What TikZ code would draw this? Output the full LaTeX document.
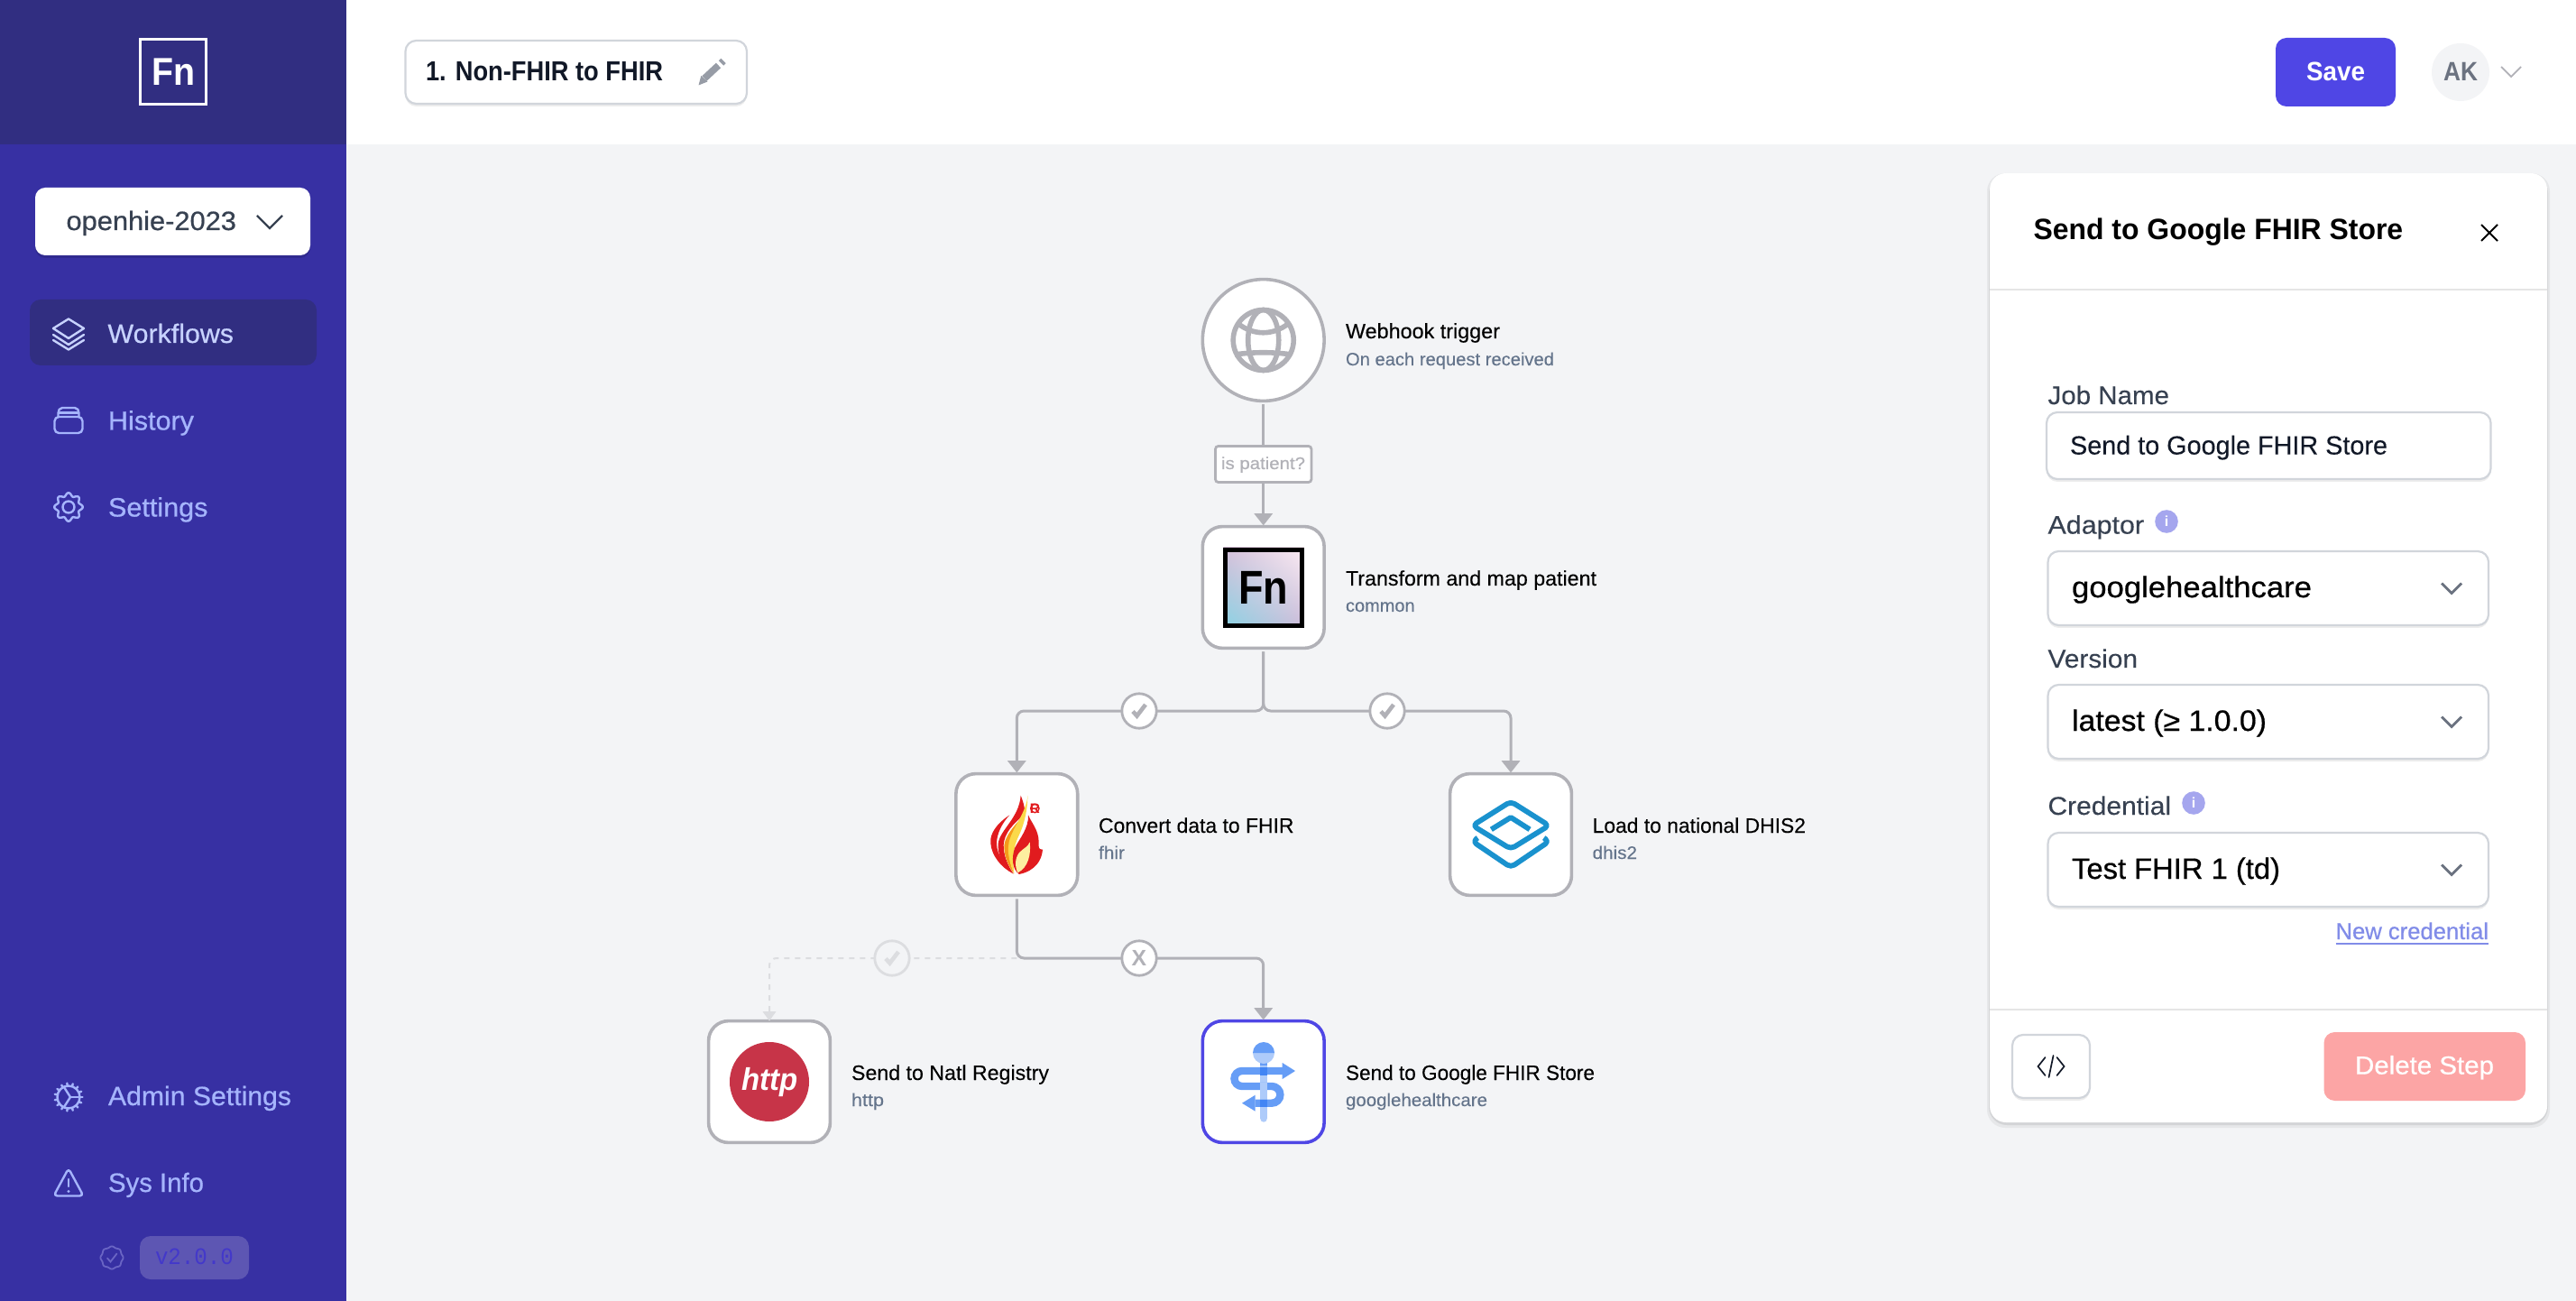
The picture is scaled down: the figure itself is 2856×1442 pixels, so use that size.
\documentclass[tikz,border=0pt]{standalone}
\usepackage{fontspec}
\usetikzlibrary{arrows.meta,shadings}
\setmainfont{Liberation Sans}
\newfontfamily\medf[FakeBold=0.6]{Liberation Sans}
\newfontfamily\regf[FakeBold=0.15]{Liberation Sans}
\newfontfamily\monof{Liberation Mono}
\definecolor{side}{HTML}{3730A3}
\definecolor{sidedark}{HTML}{312E81}
\definecolor{canvas}{HTML}{F3F4F6}
\definecolor{navtxt}{HTML}{A5B4FC}
\definecolor{navact}{HTML}{C7D2FE}
\definecolor{edgec}{HTML}{B1B1B7}
\definecolor{fade}{HTML}{DCDDE0}
\definecolor{fieldb}{HTML}{D1D5DB}
\definecolor{ink}{HTML}{111827}
\definecolor{label}{HTML}{374151}
\definecolor{subt}{HTML}{64748B}
\definecolor{indigo}{HTML}{4F46E5}
\definecolor{infoc}{HTML}{A5A6EE}
\definecolor{linkc}{HTML}{818CE8}
\definecolor{delc}{HTML}{FCA5A5}
\definecolor{chipc}{HTML}{5D56B3}
\definecolor{chipt}{HTML}{4338CA}
\definecolor{badge}{HTML}{6A65C4}
\definecolor{flred}{HTML}{E11B1E}
\definecolor{florg}{HTML}{F59A1B}
\definecolor{flyel}{HTML}{FBD94A}
\definecolor{flpale}{HTML}{FDEFA0}
\definecolor{dhisc}{HTML}{1A92CE}
\definecolor{gdark}{HTML}{4285F4}
\definecolor{gmid}{HTML}{669DF6}
\definecolor{glite}{HTML}{AECBFA}
\definecolor{httpc}{HTML}{C73448}
\definecolor{chevg}{HTML}{6B7280}
\newsavebox\txbox
% name, x, baseline, width, font px, colour, font switch, text
\newcommand\tx[8]{%
  \node[anchor=base west,inner sep=0pt,outer sep=0pt,text=#6] (#1) at (#2,#3) {%
    \pgfmathsetmacro\tfs{#5*0.2625}%
    \sbox\txbox{#7\fontsize{\tfs pt}{\tfs pt}\selectfont #8}%
    \pgfmathsetmacro\tsx{0.25*#4/\the\wd\txbox}%
    \scalebox{\tsx}[1]{\usebox\txbox}};%
}
\newcommand\uibox[5]{%
  \fill[black,opacity=.07,rounded corners=#5pt] (#1,#2+3) rectangle (#3,#4+3);
  \draw[draw=fieldb,fill=white,line width=.55pt,rounded corners=#5pt] (#1,#2) rectangle (#3,#4);
}
\newcommand\chev[5]{\draw[#5,line join=miter] (#1-#3,#2-#4) -- (#1,#2+#4) -- (#1+#3,#2-#4);}
\tikzset{
  stepbox/.style={draw=edgec,fill=white,line width=.9pt,minimum size=33.7pt,rounded corners=5.5pt,inner sep=0pt,outer sep=0pt},
  trigbox/.style={draw=edgec,fill=white,line width=.9pt,circle,minimum size=33.7pt,inner sep=0pt,outer sep=0pt},
  edgeline/.style={draw=edgec,line width=.75pt,rounded corners=2pt,shorten <=1pt},
  fadeline/.style={draw=fade,line width=.5pt,dash pattern=on 1.5pt off 1.5pt,rounded corners=2pt},
  headtip/.style={-{Triangle[width=5pt,length=3.3pt]},shorten >=.3pt},
  condc/.style={circle,draw=edgec,fill=white,line width=.7pt,minimum size=9.6pt,inner sep=0pt,outer sep=0pt},
  condfade/.style={circle,draw=fade,fill=canvas,line width=.7pt,minimum size=9.6pt,inner sep=0pt,outer sep=0pt},
  navline/.style={draw=navtxt,line width=.6pt,line join=round,line cap=round},
  navlinea/.style={draw=navact,line width=.6pt,line join=round,line cap=round},
}
\begin{document}
\begin{tikzpicture}[x=.25pt,y=-.25pt]
\useasboundingbox (0,0) rectangle (2856,1442);
% regions
\fill[canvas] (0,0) rectangle (2856,1442);
\fill[white] (384,0) rectangle (2856,160);
\fill[side] (0,0) rectangle (384,1442);
\fill[sidedark] (0,0) rectangle (384,160);
% logo
\draw[white,line width=.85pt] (155.5,43.5) rectangle (228.5,115.5);
\tx{logofn}{168}{95}{48}{41}{white}{\bfseries}{Fn}
% project selector
\fill[black,opacity=.12,rounded corners=2.8pt] (39,211) rectangle (344,286);
\fill[white,rounded corners=2.8pt] (39,208) rectangle (344,283);
\tx{proj}{73.5}{255}{188.5}{28}{label}{\medf}{openhie-2023}
\chev{299}{246}{14}{7}{draw=label,line width=.6pt}
% nav
\fill[sidedark,rounded corners=3pt] (33,332) rectangle (351,405);
\draw[navlinea] (76,353.5) -- (93,364) -- (76,375) -- (59,364) -- cycle;
\draw[navlinea] (59,371) -- (76,382) -- (93,371);
\draw[navlinea] (59,377) -- (76,387.5) -- (93,377);
\tx{workflows}{119.5}{380}{139.5}{28}{navact}{\medf}{Workflows}
\draw[navline,rounded corners=1.2pt] (60.5,462) rectangle (91.5,480);
\draw[navline] (64.5,462) -- (64.5,458) .. controls (64.5,455) and (66,452) .. (69,452) -- (83,452) .. controls (86,452) and (87.5,455) .. (87.5,458) -- (87.5,462);
\draw[navline] (65,457.5) -- (87,457.5);
\tx{history}{120}{476.5}{95}{28}{navtxt}{\medf}{History}
\draw[navline] plot[domain=0:360,samples=97,smooth] ({76+(14+1.8*cos(8*\x))*cos(\x)},{562+(14+1.8*cos(8*\x))*sin(\x)});
\draw[navline] (76,562) circle[radius=6.5];
\tx{settings}{120}{572.5}{110.5}{28}{navtxt}{\medf}{Settings}
% admin gear
\draw[navline] (76,1216) circle[radius=12.5];
\foreach \a in {0,24,...,336}{\draw[navline] ({76+12.5*cos(\a)},{1216+12.5*sin(\a)}) -- ({76+15.5*cos(\a)},{1216+15.5*sin(\a)});}
\draw[navline] (78,1216) -- (88.5,1216);
\draw[navline] (78,1216) -- (71,1205);
\draw[navline] (78,1216) -- (71,1227);
\tx{admin}{120}{1225}{203}{28}{navtxt}{\medf}{Admin Settings}
\draw[navline,rounded corners=1pt] (76,1295) -- (92.5,1325.5) -- (59.5,1325.5) -- cycle;
\draw[navline] (76,1307) -- (76,1315);
\fill[navtxt] (76,1320.5) circle[radius=1.6];
\tx{sysinfo}{120}{1321}{106}{28}{navtxt}{\medf}{Sys Info}
\draw[draw=badge,line width=.45pt] plot[domain=0:360,samples=65,smooth] ({124+(12+.6*cos(8*\x))*cos(\x)},{1394+(12+.6*cos(8*\x))*sin(\x)});
\draw[draw=badge,line width=.45pt,line cap=round] (119,1394.5) -- (122.5,1398.5) -- (129.5,1389.5);
\fill[chipc,rounded corners=3pt] (155,1370) rectangle (276,1418);
\tx{version}{172}{1401}{87}{25}{chipt}{\monof}{v2.0.0}
% title box
\uibox{449.5}{45}{828}{115}{3}
\tx{wftitle}{472}{90}{263}{29}{ink}{\bfseries}{1. Non-FHIR to FHIR}
\draw[chevg!70,line width=1.9pt] (781,87) -- (796.5,72.5);
\draw[chevg!70,line width=1.9pt] (799.5,70) -- (802,67.5);
\fill[chevg!70] (774.5,94.5) -- (777.3,84) -- (784.5,90.5) -- cycle;
% save + user
\fill[indigo,rounded corners=3pt] (2523,42) rectangle (2656,118);
\tx{savebtn}{2557}{89.5}{65}{28}{white}{\bfseries}{Save}
\node[circle,fill=canvas,minimum size=16pt,inner sep=0pt] (avatar) at (2728,80) {};
\tx{aktxt}{2709}{89.5}{38}{28}{chevg}{\bfseries}{AK}
\chev{2784}{79.5}{11}{5.5}{draw=edgec,line width=.45pt}
% panel
\fill[black,opacity=.05,rounded corners=5pt] (2203,192) rectangle (2827,1250);
\fill[black,opacity=.08,rounded corners=5pt] (2205,194) rectangle (2825,1247);
\fill[white,rounded corners=4.5pt] (2206,192) rectangle (2824,1244);
\draw[draw=black!10,line width=.5pt] (2206,321) -- (2824,321);
\draw[draw=black!10,line width=.5pt] (2206,1119) -- (2824,1119);
\tx{ptitle}{2254.6}{266}{409.5}{31}{black}{\bfseries}{Send to Google FHIR Store}
\draw[black,line width=.5pt] (2751,249) -- (2769,267) (2769,249) -- (2751,267);
\tx{ljob}{2270.5}{448}{134.5}{27}{label}{\regf}{Job Name}
\uibox{2269}{457}{2761.5}{531}{3}
\tx{vjob}{2295}{503.6}{352}{27.5}{ink}{\regf}{Send to Google FHIR Store}
\tx{ladapt}{2270.5}{591.6}{106.5}{27}{label}{\regf}{Adaptor}
\node[circle,fill=infoc,minimum size=6.4pt,inner sep=0pt,text=white,font=\fontsize{4pt}{4pt}\selectfont\bfseries] (infoa) at (2402,578) {i};
\uibox{2270.5}{611}{2759}{693}{3}
\tx{vadapt}{2297}{662}{266}{31}{black}{\medf}{googlehealthcare}
\chev{2718}{652}{11}{5.5}{draw=chevg,line width=.7pt}
\tx{lvers}{2270.5}{740}{99.5}{27}{label}{\regf}{Version}
\uibox{2270.5}{759}{2759}{841}{3}
\tx{vvers}{2297}{810}{216}{31}{black}{\medf}{latest (≥ 1.0.0)}
\chev{2718}{800}{11}{5.5}{draw=chevg,line width=.7pt}
\tx{lcred}{2270.5}{903}{136.5}{27}{label}{\regf}{Credential}
\node[circle,fill=infoc,minimum size=6.4pt,inner sep=0pt,text=white,font=\fontsize{4pt}{4pt}\selectfont\bfseries] (infoc1) at (2432,890) {i};
\uibox{2270.5}{923}{2759}{1005}{3}
\tx{vcred}{2297}{974}{231}{31}{black}{\medf}{Test FHIR 1 (td)}
\chev{2718}{964}{11}{5.5}{draw=chevg,line width=.7pt}
\tx{newcred}{2589.5}{1041}{169.5}{24.5}{linkc}{\medf}{New credential}
\draw[linkc,line width=.5pt] (2589.5,1046) -- (2759,1046);
\uibox{2231}{1147}{2317}{1217}{3}
\draw[ink,line width=.42pt,line cap=round] (2267.5,1172) -- (2259.5,1182) -- (2267.5,1192);
\draw[ink,line width=.42pt,line cap=round] (2280.5,1172) -- (2288.5,1182) -- (2280.5,1192);
\draw[ink,line width=.42pt,line cap=round] (2276.5,1170) -- (2271.5,1194);
\fill[delc,rounded corners=3pt] (2576.5,1144) rectangle (2800,1220);
\tx{delbtn}{2611}{1190.6}{154}{27}{white}{\medf}{Delete Step}
% graph nodes
\node[trigbox] (webhook) at (1400.7,377) {};
\node[stepbox] (transform) at (1400.7,651) {};
\node[stepbox] (fhirstep) at (1127.3,925) {};
\node[stepbox] (dhis) at (1675,925) {};
\node[stepbox] (natl) at (853,1199) {};
\node[stepbox,draw=indigo] (gstore) at (1400.7,1199) {};
\node[draw=edgec,fill=white,line width=.7pt,rounded corners=.8pt,minimum width=26.6pt,minimum height=10pt,inner sep=0pt,outer sep=0pt] (ispat) at (1400.7,514.5) {};
\tx{ispattxt}{1354}{520}{93}{18}{edgec}{\medf}{is patient?}
% junction coordinates
\coordinate (j1) at (1400.7,788);
\coordinate (j2) at (1127.3,1062);
% edges
\draw[edgeline] (webhook.south) -- (ispat.north);
\draw[edgeline,headtip,shorten <=0pt] (ispat.south) -- (transform.north);
\draw[edgeline,headtip] (transform.south) -- (j1) -| (fhirstep.north);
\draw[edgeline,headtip] (transform.south) -- (j1) -| (dhis.north);
\draw[edgeline,headtip] (fhirstep.south) -- (j2) -| (gstore.north);
\draw[fadeline,-{Triangle[width=3.6pt,length=2.6pt]}] (j2) -| (natl.north);
% condition badges
\node[condc] (c1) at (1263,788) {};
\node[condc] (c2) at (1538,788) {};
\node[condfade] (c3) at (989,1062) {};
\node[condc,text=edgec,font=\fontsize{6.2pt}{6.5pt}\selectfont\bfseries] (c4) at (1263,1062) {X};
\foreach \n/\col in {c1/edgec,c2/edgec,c3/fade}{
  \draw[\col,line width=1.15pt] ([shift={(-7,0.5)}]\n.center) -- ([shift={(-2.5,5.5)}]\n.center) -- ([shift={(7,-7)}]\n.center);
}
% node texts
\tx{t1}{1492}{375}{171}{22}{black}{\regf}{Webhook trigger}
\tx{s1}{1492}{405}{231}{19}{subt}{\regf}{On each request received}
\tx{t2}{1492}{649}{278}{22}{black}{\regf}{Transform and map patient}
\tx{s2}{1492}{678}{76.6}{19}{subt}{\regf}{common}
\tx{t3}{1218}{923}{216.5}{22}{black}{\regf}{Convert data to FHIR}
\tx{s3}{1218}{952}{29}{19}{subt}{\regf}{fhir}
\tx{t4}{1765.6}{923}{236.4}{22}{black}{\regf}{Load to national DHIS2}
\tx{s4}{1765.6}{952}{49.4}{19}{subt}{\regf}{dhis2}
\tx{t5}{944}{1197}{219}{22}{black}{\regf}{Send to Natl Registry}
\tx{s5}{944}{1226}{36}{19}{subt}{\regf}{http}
\tx{t6}{1492}{1197}{276}{22}{black}{\regf}{Send to Google FHIR Store}
\tx{s6}{1492}{1226}{157}{19}{subt}{\regf}{googlehealthcare}
% globe
\begin{scope}[draw=edgec,line width=1.4pt]
\draw (1400.7,377) circle[radius=33.5];
\draw (1400.7,377) ellipse[x radius=17,y radius=33.5];
\draw (1373,359) .. controls (1390,372) and (1411,372) .. (1428,359);
\draw (1369,393) .. controls (1390,390) and (1411,390) .. (1432,393);
\end{scope}
% Fn tile
\shade[upper left={rgb,255:red,214;green,190;blue,217},upper right={rgb,255:red,251;green,236;blue,243},lower left={rgb,255:red,137;green,212;blue,228},lower right={rgb,255:red,205;green,186;blue,216}] (1356.4,607) rectangle (1445.7,696);
\draw[black,line width=1.25pt] (1358.9,609.5) rectangle (1443.2,693.5);
\tx{fntile}{1373}{670}{55}{50}{black}{\bfseries}{Fn}
% flame
\begin{scope}[shift={(1080,870)},x=.08333pt,y=-.08333pt]
\fill[flred] (118,100) .. controls (80,125) and (50,160) .. (55,195) .. controls (58,235) and (90,275) .. (130,295) .. controls (105,265) and (75,235) .. (75,195) .. controls (75,160) and (95,125) .. (118,100) -- cycle;
\fill[flred] (155,35) .. controls (165,60) and (172,85) .. (165,100) .. controls (130,130) and (100,160) .. (98,200) .. controls (98,240) and (115,270) .. (130,295) .. controls (92,270) and (78,230) .. (80,195) .. controls (85,150) and (150,110) .. (155,35) -- cycle;
\fill[florg] (165,100) .. controls (135,135) and (105,165) .. (100,200) .. controls (99,240) and (115,270) .. (132,295) .. controls (122,265) and (110,225) .. (118,190) .. controls (125,160) and (160,125) .. (165,100) -- cycle;
\fill[flyel] (178,35) .. controls (175,90) and (128,140) .. (116,190) .. controls (108,230) and (122,270) .. (133,295) .. controls (128,250) and (130,205) .. (148,170) .. controls (163,140) and (178,90) .. (178,35) -- cycle;
\fill[flred] (180,100) .. controls (190,125) and (215,150) .. (215,190) .. controls (215,205) and (212,215) .. (228,215) .. controls (225,250) and (205,285) .. (150,297) .. controls (125,280) and (125,240) .. (135,210) .. controls (150,180) and (182,145) .. (180,100) -- cycle;
\fill[flpale] (185,190) .. controls (190,230) and (180,275) .. (145,292) .. controls (135,270) and (135,245) .. (150,225) .. controls (165,210) and (180,205) .. (185,190) -- cycle;
\draw[flred,line width=.35pt] (202,78) circle[radius=14];
\node[text=flred,font=\fontsize{3.8pt}{4pt}\selectfont\bfseries,inner sep=0pt] (regmark) at (202,78) {R};
\end{scope}
% dhis2
\begin{scope}[shift={(1620,870)},x=.08333pt,y=-.08333pt,draw=dhisc,line width=1.45pt,line join=round]
\draw[rounded corners=1.2pt] (165,55) -- (292,135) -- (165,213) -- (38,135) -- cycle;
\draw (100,148) -- (165,108) -- (228,148);
\draw[rounded corners=1.2pt] (55,176) -- (38,188) -- (165,274) -- (292,188) -- (275,176);
\end{scope}
% http icon
\node[circle,fill=httpc,minimum size=22pt,inner sep=0pt] (httpdot) at (853,1199) {};
\tx{httptxt}{822.7}{1208}{62.3}{33}{white}{\bfseries\itshape}{http}
% healthcare icon
\begin{scope}[line cap=butt]
\fill[glite] (1397.3,1170) rectangle (1404.7,1240);
\fill[glite] (1401,1240) circle[radius=3.7];
\fill[gmid] (1397.3,1170) rectangle (1404.7,1181);
\fill[glite] (1389,1167) arc[start angle=180,end angle=0,radius=12] -- cycle;
\fill[gmid] (1389,1167) arc[start angle=180,end angle=360,radius=12] -- cycle;
\draw[gmid,line width=2.1pt] (1422,1187) -- (1377,1187) arc[start angle=270,end angle=90,radius=8.5] -- (1410,1204) arc[start angle=-90,end angle=90,radius=9.35] -- (1391.7,1222.7);
\fill[gmid] (1421.7,1178) -- (1436,1187) -- (1421.7,1196) -- cycle;
\fill[gmid] (1391.7,1213.7) -- (1377,1222.7) -- (1391.7,1231.7) -- cycle;
\fill[gdark] (1397.3,1183) rectangle (1404.7,1191.5);
\fill[gdark] (1397.3,1218.5) rectangle (1404.7,1227);
\fill[glite] (1397.3,1200) rectangle (1404.7,1208.5);
\end{scope}
\end{tikzpicture}
\end{document}
